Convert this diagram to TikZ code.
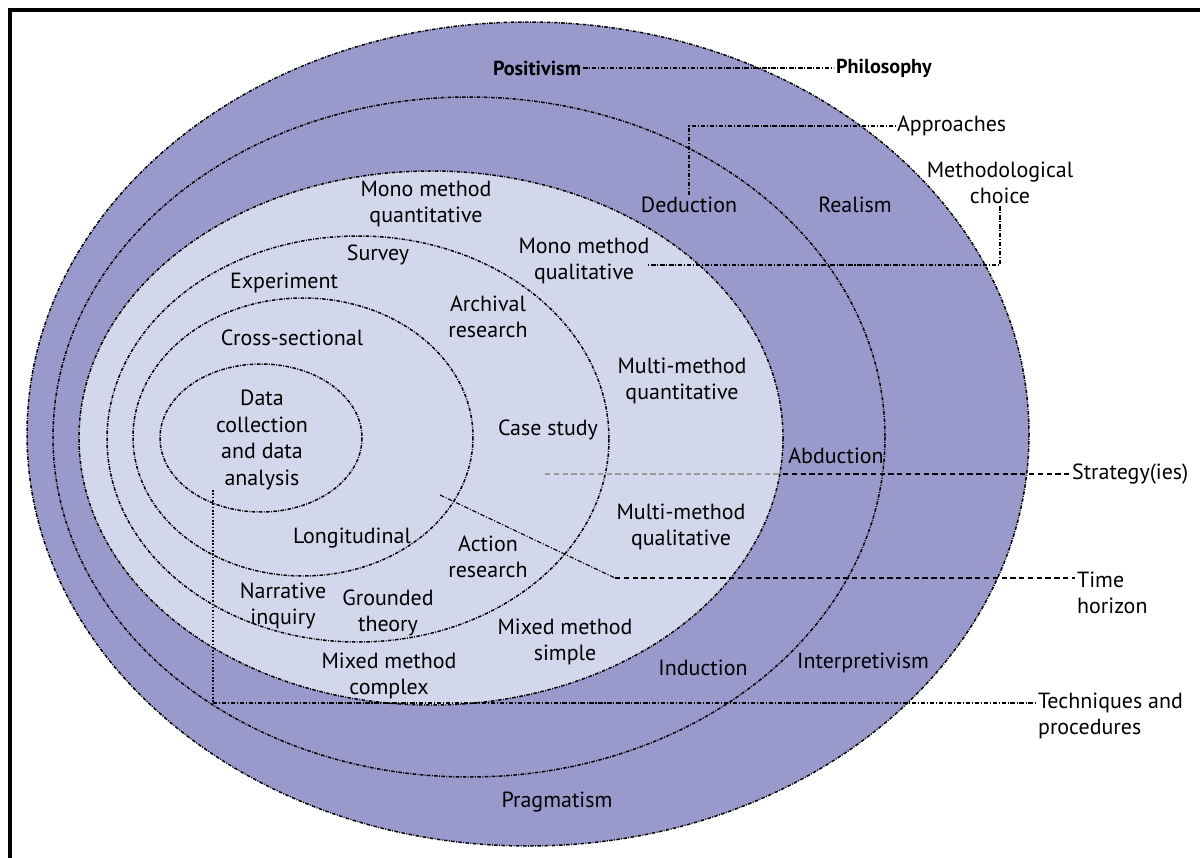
\documentclass[tikz,border=0pt]{standalone}
\usepackage{fontspec}
\setmainfont{PT Sans}
\usetikzlibrary{positioning}
\definecolor{onionout}{RGB}{153,153,204}
\definecolor{onionin}{RGB}{211,215,235}

\tikzset{
    ring/.style={line width=0.85pt, dash pattern=on 2pt off 0.8pt on 0.5pt off 0.8pt},
    leader/.style={line width=0.65pt, dash pattern=on 2.5pt off 1pt on 0.6pt off 1pt},
    layerline/.style={line width=0.9pt, dash pattern=on 3pt off 2pt},
    lbl/.style={align=center, inner sep=1pt, font=\fontsize{12.5}{15}\selectfont},
    side/.style={lbl, anchor=west, align=left}
}

\begin{document}
\begin{tikzpicture}[x=0.02cm, y=-0.02cm]

    \useasboundingbox (0,0) rectangle (1200,858);
    \draw[line width=1.8pt] (10,858) -- (10,10) -- (1200,10);

    % layers of the onion
    \fill[onionout] (528,434) ellipse [x radius=501, y radius=412];
    \draw[ring] (528,434) ellipse [x radius=501, y radius=412];
    \draw[ring] (469,437) ellipse [x radius=416, y radius=340];
    \filldraw[fill=onionin, ring] (431,438) ellipse [x radius=352, y radius=267];
    \draw[ring] (358,439) ellipse [x radius=251, y radius=203];
    \draw[ring] (303,437) ellipse [x radius=170, y radius=139];
    \draw[ring] (261,438) ellipse [x radius=101, y radius=74];

    % names on the right
    \node[lbl, font=\fontsize{11.5}{14}\selectfont\bfseries] (philosophy) at (884,68) {Philosophy};
    \node[side] (approaches) at (895,126) {Approaches};
    \node[lbl] (methchoice) at (1000,183) {Methodological\\choice};
    \node[side] (strategies) at (1070,474) {Strategy(ies)};
    \node[side] (timehorizon) at (1075,593) {Time\\horizon};
    \node[side] (techniques) at (1036,716) {Techniques and\\procedures};

    % contents of the layers
    \node[lbl, font=\fontsize{11.5}{14}\selectfont\bfseries] (positivism) at (537,68) {Positivism};
    \node[lbl] (deduction) at (689,205) {Deduction};
    \node[lbl] (realism) at (855,205) {Realism};
    \node[lbl] (monoquan) at (426,204) {Mono method\\quantitative};
    \node[lbl] (monoqual) at (584,261) {Mono method\\qualitative};
    \node[lbl] (survey) at (378,255) {Survey};
    \node[lbl] (experiment) at (284,283) {Experiment};
    \node[lbl] (archival) at (488,317) {Archival\\research};
    \node[lbl] (crosssec) at (292,338) {Cross-sectional};
    \node[lbl] (multiquan) at (682,381) {Multi-method\\quantitative};
    \node[lbl] (casestudy) at (548,430) {Case study};
    \node[lbl] (abduction) at (836,456) {Abduction};
    \node[lbl] (datacoll) at (262,440) {Data\\collection\\and data\\analysis};
    \node[lbl] (multiqual) at (681,527) {Multi-method\\qualitative};
    \node[lbl] (longitud) at (352,538) {Longitudinal};
    \node[lbl] (action) at (488,557) {Action\\research};
    \node[lbl] (narrative) at (283,606) {Narrative\\inquiry};
    \node[lbl] (grounded) at (388,613) {Grounded\\theory};
    \node[lbl] (mixsimple) at (565,642) {Mixed method\\simple};
    \node[lbl] (mixcomplex) at (389,676) {Mixed method\\complex};
    \node[lbl] (induction) at (703,668) {Induction};
    \node[lbl] (interpret) at (863,663) {Interpretivism};
    \node[lbl] (pragmatism) at (557,802) {Pragmatism};

    % leaders
    \coordinate (mcq) at (648,265);
    \coordinate (stratstart) at (545,474);
    \coordinate (stratmid) at (783,474);
    \coordinate (thstart) at (440,495);
    \coordinate (thbend) at (615,578);
    \coordinate (tpstart) at (213,490);
    \coordinate (tpcorner) at (213,703);

    \draw[leader] (positivism.east) -- (philosophy.west);
    \draw[leader] (deduction.north) |- (approaches.west);
    \draw[leader] (methchoice.south) |- (mcq);
    \draw[layerline, black!40] (stratstart) -- (stratmid);
    \draw[layerline] (stratmid) -- (strategies.west);
    \draw[leader] (thstart) -- (thbend);
    \draw[layerline] (thbend) -- (thbend -| timehorizon.west);
    \draw[densely dotted, line width=0.9pt] (tpstart) -- (tpcorner);
    \draw[leader] (tpcorner) -- (tpcorner -| techniques.west);

\end{tikzpicture}
\end{document}
